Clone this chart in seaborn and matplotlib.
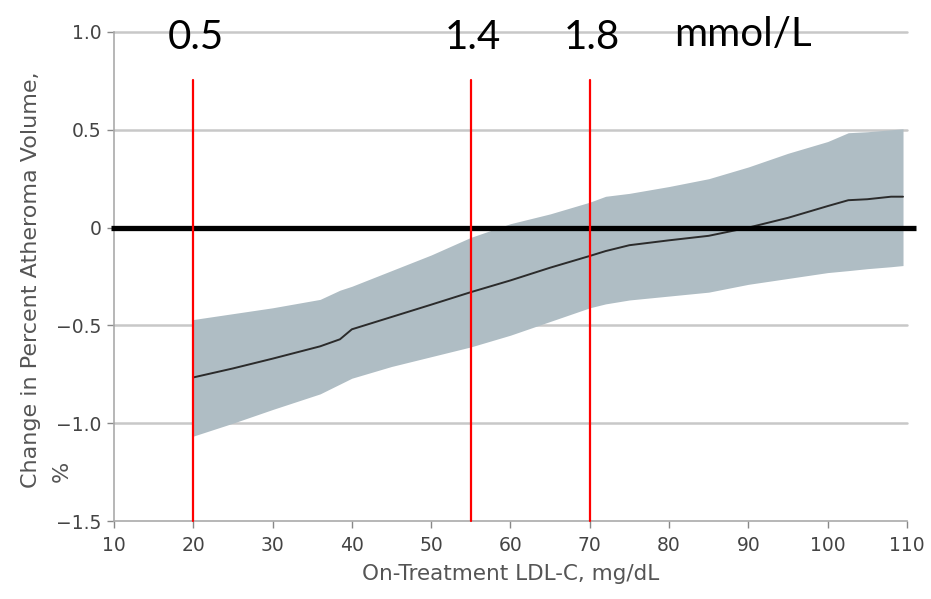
import matplotlib
matplotlib.use("Agg")
import matplotlib.pyplot as plt
import seaborn as sns
import pandas as pd

# --- data ---
ldl = [20, 25, 30, 36, 38.5, 40, 45, 50, 55, 60, 65, 70, 72, 75, 80, 85, 90, 95, 100, 102.6, 105, 108, 109.5]
mean = [-0.766, -0.72, -0.67, -0.607, -0.571, -0.52, -0.457, -0.394, -0.33, -0.27, -0.205, -0.145, -0.12,
        -0.09, -0.065, -0.042, 0.0, 0.05, 0.11, 0.14, 0.145, 0.158, 0.158]
upper = [-0.47, -0.44, -0.41, -0.367, -0.32, -0.30, -0.22, -0.14, -0.05, 0.02, 0.07, 0.13, 0.16,
         0.175, 0.21, 0.25, 0.31, 0.38, 0.44, 0.485, 0.49, 0.50, 0.505]
lower = [-1.066, -1.0, -0.93, -0.85, -0.80, -0.77, -0.71, -0.66, -0.61, -0.55, -0.48, -0.41, -0.39,
         -0.37, -0.35, -0.33, -0.29, -0.26, -0.23, -0.22, -0.21, -0.20, -0.194]
marker_ldl = [20, 55, 70]
marker_labels = ["0.5", "1.4", "1.8"]
unit_label = "mmol/L"
x_ticks = [10, 20, 30, 40, 50, 60, 70, 80, 90, 100, 110]
y_ticks = [-1.5, -1.0, -0.5, 0, 0.5, 1.0]
y_tick_labels = ["\u22121.5", "\u22121.0", "\u22120.5", "0", "0.5", "1.0"]

df = pd.DataFrame({"ldl": ldl, "mean": mean, "upper": upper, "lower": lower})

sns.set_style("white")
plt.rcParams["font.family"] = ["DejaVu Sans"]

fig = plt.figure(figsize=(9.31, 5.99), dpi=100)
ax = fig.add_axes([0.1224, 0.1302, 0.9742 - 0.1224, 0.9466 - 0.1302])

ax.set_xlim(10, 110)
ax.set_ylim(-1.5, 1.0)

# grid
for yv in [-1.0, -0.5, 0.5, 1.0]:
    ax.axhline(yv, color="#c8c8c8", lw=1.8, zorder=0, clip_on=False)

ax.fill_between(df["ldl"], df["lower"], df["upper"], color="#afbdc4", lw=0, zorder=1)
sns.lineplot(data=df, x="ldl", y="mean", ax=ax, color="#2b2b2b", lw=1.4, zorder=2)

# zero reference line
ax.plot([9.6, 111.2], [0, 0], color="black", lw=3.8, zorder=4, clip_on=False,
        solid_capstyle="butt")

# red markers
for xv, lab in zip(marker_ldl, marker_labels):
    ax.plot([xv, xv], [-1.5, 0.755], color="#ff0000", lw=1.6, zorder=5, clip_on=False)
    ax.text(xv + 0.3, 0.972, lab, ha="center", va="center", fontsize=29,
            family=["Lato", "DejaVu Sans"], color="black", zorder=6)
ax.text(89.3, 0.985, unit_label, ha="center", va="center", fontsize=29,
        family=["Lato", "DejaVu Sans"], color="black", zorder=6)

ax.set_xticks(x_ticks)
ax.set_yticks(y_ticks)
ax.set_yticklabels(y_tick_labels)
ax.tick_params(axis="both", labelsize=13.5, labelcolor="#444444", color="#888888",
               length=5, width=1, direction="out", bottom=True, left=True)
ax.tick_params(axis="x", pad=6)
ax.tick_params(axis="y", pad=4)

for s in ["top", "right"]:
    ax.spines[s].set_visible(False)
for s in ["left", "bottom"]:
    ax.spines[s].set_color("#aaaaaa")
    ax.spines[s].set_linewidth(1.2)

ax.set_xlabel("On-Treatment LDL-C, mg/dL", fontsize=15.5, color="#555555", labelpad=6)
ax.set_ylabel("Change in Percent Atheroma Volume,", fontsize=16, color="#555555")
ax.yaxis.set_label_coords(-0.092, 0.493)
ax.text(-0.0656, 0.102, "%", transform=ax.transAxes, rotation=90, ha="center",
        va="center", fontsize=16, color="#555555")

fig.savefig("out.png", dpi=100)
